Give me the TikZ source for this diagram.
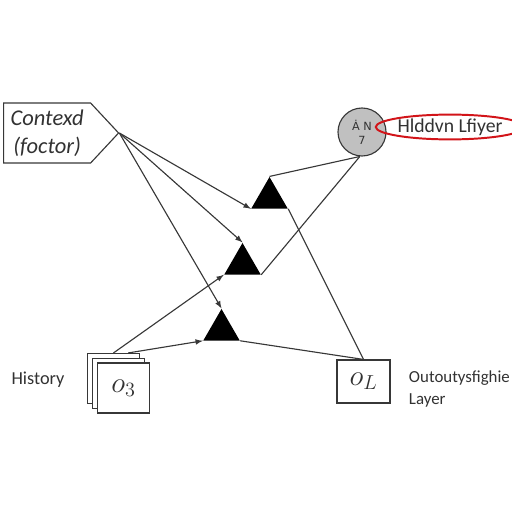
\documentclass[tikz,border=0pt]{standalone}
\usepackage{fontspec}
\setmainfont{Carlito}
\newfontfamily\dejafont{DejaVu Sans}
\usetikzlibrary{shapes.geometric,shapes.symbols}
\definecolor{redline}{RGB}{210,20,25}
\definecolor{hidgray}{RGB}{192,192,192}
\definecolor{wirecol}{RGB}{55,55,55}
\definecolor{txtcol}{RGB}{50,50,50}
\tikzset{
  tri/.style={regular polygon, regular polygon sides=3, fill=black, inner sep=0pt, minimum size=1.05cm},
  page/.style={draw=wirecol, fill=white, line width=0.8pt, minimum width=1.3cm, minimum height=1.25cm, inner sep=0pt},
  wire/.style={draw=wirecol, line width=0.8pt}
}

\begin{document}
\begin{tikzpicture}[x=0.025cm,y=-0.025cm,>=latex,text=txtcol]
\useasboundingbox (0,0) rectangle (512,512);
% context input
\node[draw=wirecol, line width=0.8pt, signal, signal to=east, signal pointer angle=94, minimum width=2.875cm, minimum height=1.5cm, align=center, inner sep=0pt, anchor=west, font=\fontsize{16}{20}\selectfont\itshape] (ctx) at (3,133) {Contexd\\(foctor)};
% hidden unit
\node[circle, draw=wirecol, line width=0.8pt, fill=hidgray, minimum size=1.2cm, inner sep=0pt, align=center, font=\dejafont\fontsize{8}{10}\selectfont] (hid) at (362,132) {Ȧ N\\7};
\node[ellipse, draw=redline, line width=1.4pt, minimum width=3.1cm, minimum height=0.62cm, inner sep=0pt, font=\fontsize{14}{16}\selectfont] (hidlbl) at (450,127) {Hlddvn Lfiyer};
% gates
\node[tri] (t1) at (269.5,198) {};
\node[tri] (t2) at (242.5,264) {};
\node[tri] (t3) at (221.5,330) {};
% history pages
\node[page] (h3) at (113.5,378.5) {};
\node[page] (h2) at (118.5,383.5) {};
\node[page, font=\fontsize{20}{24}\selectfont] (h1) at (123.5,388) {$o_3$};
\node[font=\fontsize{13}{15}\selectfont] (histlbl) at (38,380) {History};
% output
\node[draw=wirecol, line width=0.8pt, minimum width=1.325cm, minimum height=1.075cm, inner sep=0pt, font=\fontsize{20}{24}\selectfont] (out) at (363.5,381.5) {$o_L$};
\node[anchor=west, align=left, font=\fontsize{12}{15}\selectfont] (outlbl) at (404,389) {Outoutysfighie\\Layer};

\draw[wire,->] (ctx.east) -- (t1.corner 2);
\draw[wire,->] (ctx.east) -- (t2.corner 1);
\draw[wire,->] (ctx.east) -- (t3.corner 1);
\draw[wire,->] (h3.north) -- (t2.corner 2);
\draw[wire,->] (h3.60) -- (t3.corner 2);
\draw[wire] (t1.corner 1) -- (hid.-95);
\draw[wire] (hid.-95) -- (t2.corner 3);
\draw[wire] (t1.corner 3) -- (out.north);
\draw[wire] (t3.corner 3) -- (out.north);

\end{tikzpicture}
\end{document}
